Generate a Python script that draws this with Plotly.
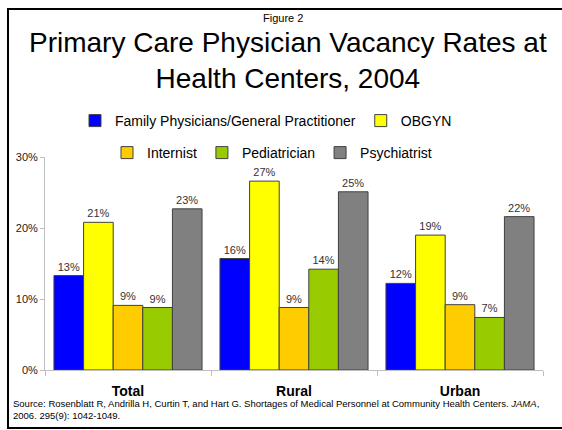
import plotly.graph_objects as go

categories = ["Total", "Rural", "Urban"]
series_names = ["Family Physicians/General Practitioner", "OBGYN", "Internist", "Pediatrician", "Psychiatrist"]
family = [0.133, 0.157, 0.122]
obgyn = [0.208, 0.266, 0.190]
internist = [0.091, 0.088, 0.092]
pediatrician = [0.088, 0.142, 0.074]
psychiatrist = [0.227, 0.251, 0.216]
series_values = [family, obgyn, internist, pediatrician, psychiatrist]
colors = ["#0000FF", "#FFFF00", "#FFCC00", "#99CC00", "#808080"]
legend_ids = ["legend", "legend", "legend2", "legend2", "legend2"]
y_ticks = [0, 0.1, 0.2, 0.3]
y_tick_labels = ["0%", "10%", "20%", "30%"]

FONT = "Arial, Liberation Sans, sans-serif"

fig = go.Figure()
for name, vals, col, lg in zip(series_names, series_values, colors, legend_ids):
    fig.add_trace(go.Bar(
        name=name, x=categories, y=vals,
        marker=dict(color=col, line=dict(color="#404040", width=1)),
        text=[f"{round(v*100):d}%" for v in vals],
        textposition="outside",
        textfont=dict(family=FONT, size=11, color="#333333"),
        cliponaxis=False,
        legend=lg,
    ))

W, H = 562, 430
L, R, T, B = 45, 19, 157, 60
pw, ph = W - L - R, H - T - B

def px(x):
    return (x - L) / pw

def py(y):
    return (H - B - y) / ph

border = dict(color="black", width=2)
fig.update_layout(
    width=W, height=H,
    margin=dict(l=L, r=R, t=T, b=B),
    paper_bgcolor="white", plot_bgcolor="white",
    barmode="group", bargap=0.108, bargroupgap=0,
    font=dict(family=FONT, color="black"),
    showlegend=True,
    legend=dict(orientation="h", x=px(266), xanchor="center", y=py(121), yanchor="middle",
                font=dict(size=14, family=FONT, color="black"), bgcolor="rgba(0,0,0,0)",
                itemclick=False, traceorder="normal"),
    legend2=dict(orientation="h", x=px(272), xanchor="center", y=py(153), yanchor="middle",
                 font=dict(size=14, family=FONT, color="black"), bgcolor="rgba(0,0,0,0)",
                 itemclick=False, traceorder="normal"),
    xaxis=dict(showline=True, linecolor="#BFBFBF", linewidth=1, ticks="outside",
               tickson="boundaries", ticklen=5, tickcolor="#BFBFBF",
               ticklabelstandoff=8,
               tickfont=dict(size=14, family=FONT, color="black", weight="bold"),
               showgrid=False, zeroline=False),
    yaxis=dict(range=[0, 0.3], tickvals=y_ticks, ticktext=y_tick_labels,
               showline=True, linecolor="#BFBFBF", linewidth=1, ticks="outside",
               ticklen=4, tickcolor="#BFBFBF", showgrid=False, zeroline=False,
               tickfont=dict(size=11, family=FONT, color="#222222")),
    shapes=[
        dict(type="line", xref="paper", yref="paper", x0=px(8), x1=px(8), y0=py(428), y1=py(9), line=border),
        dict(type="line", xref="paper", yref="paper", x0=px(7), x1=px(562), y0=py(9), y1=py(9), line=border),
        dict(type="line", xref="paper", yref="paper", x0=px(7), x1=px(562), y0=py(428), y1=py(428), line=border),
    ],
    annotations=[
        dict(text="Figure 2", xref="paper", yref="paper", x=px(283), y=py(18),
             xanchor="center", yanchor="middle", showarrow=False,
             font=dict(size=11, family=FONT, color="black")),
        dict(text="Primary Care Physician Vacancy Rates at<br>Health Centers, 2004",
             xref="paper", yref="paper", x=px(288), y=py(60),
             xanchor="center", yanchor="middle", showarrow=False,
             font=dict(size=28, family=FONT, color="black")),
        dict(text="Source: Rosenblatt R, Andrilla H, Curtin T, and Hart G. Shortages of Medical Personnel at Community Health Centers. <i>JAMA</i>,<br>2006. 295(9): 1042-1049.",
             xref="paper", yref="paper", x=px(11), y=py(409),
             xanchor="left", yanchor="middle", align="left", showarrow=False,
             font=dict(size=9.5, family=FONT, color="black")),
    ],
)

fig.write_html("out.html", config={"displayModeBar": False},
               post_script="document.body.style.margin='0';document.body.style.overflow='hidden';")
